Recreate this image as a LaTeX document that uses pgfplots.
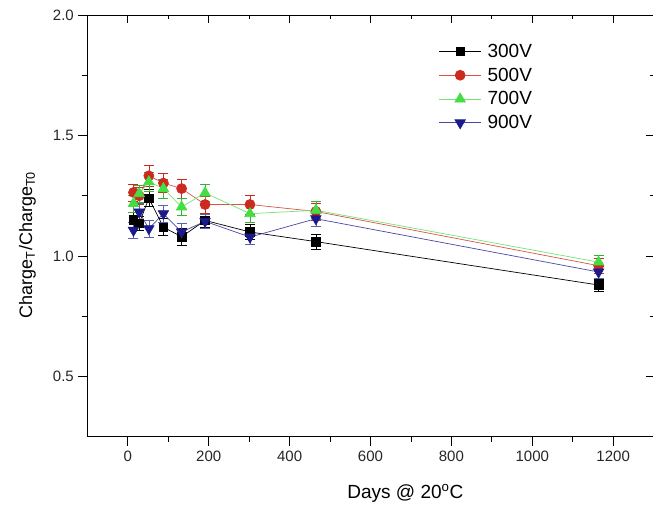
\documentclass[border=0pt]{standalone}
\usepackage{fontspec}
\setmainfont{Liberation Sans}
\usepackage{pgfplots}
\pgfplotsset{compat=1.18}

\definecolor{cred}{RGB}{204,42,30}
\definecolor{cgreen}{RGB}{68,221,68}
\definecolor{cblue}{RGB}{26,26,140}

\pgfplotsset{
  errstyle/.style={/pgfplots/error bars/.cd, y dir=both, y explicit,
    error mark options={rotate=90, mark size=5bp, line width=0.7bp},
    error bar style={#1, line width=0.7bp}, /pgfplots/.cd},
}

\begin{document}
\begin{tikzpicture}
\begin{axis}[
    scale only axis,
    width=565.7bp, height=421.5bp,
    xmin=-100, xmax=1300,
    ymin=0.25, ymax=2.0,
    xtick={0,200,...,1200},
    ytick={0.5,1.0,1.5,2.0},
    minor x tick num=1,
    minor y tick num=1,
    xtick pos=bottom, ytick pos=left,
    tick align=outside,
    major tick length=9bp, minor tick length=5bp,
    every tick/.style={black, line width=0.8bp},
    axis line style={line width=0.9bp},
    /pgf/number format/assume math mode=true,
    /pgf/number format/set thousands separator={},
    ticklabel style={font=\fontsize{15bp}{18bp}\selectfont, text=black!85},
    xticklabel style={yshift=-2bp},
    yticklabel style={xshift=-1bp, /pgf/number format/fixed, /pgf/number format/fixed zerofill, /pgf/number format/precision=1},
    xlabel={Days @ 20\textsuperscript{o}C},
    xlabel style={font=\fontsize{19bp}{22bp}\selectfont, at={(axis description cs:0.5616,0)}, anchor=center, yshift=-56.5bp},
    ylabel={Charge\textsubscript{T}/Charge\textsubscript{T0}},
    ylabel style={font=\fontsize{18bp}{21bp}\selectfont, at={(axis description cs:0,0.455)}, anchor=south, yshift=48bp},
    legend style={draw=none, fill=none, at={(axis description cs:0.615,0.941)}, anchor=north west,
      font=\fontsize{19bp}{23bp}\selectfont, row sep=5bp},
    legend cell align=left,
    legend image code/.code={\draw[mark repeat=2, mark phase=2] plot coordinates {(0bp,0bp) (21bp,0bp) (42bp,0bp)};},
]
\addplot[black, line width=0.7bp, mark=square*, mark size=4.3bp, mark options={fill=black}, errstyle=black]
  coordinates {
    (14,1.150) +- (0,0.030)
    (28,1.135) +- (0,0.030)
    (52,1.240) +- (0,0.035)
    (88,1.120) +- (0,0.035)
    (133,1.080) +- (0,0.035)
    (191,1.148) +- (0,0.030)
    (302,1.100) +- (0,0.030)
    (465,1.060) +- (0,0.030)
    (1164,0.880) +- (0,0.025)
  };
\addlegendentry{\hspace*{4bp}300V}
\addplot[cred!80!white, line width=0.7bp, mark=*, mark size=5bp, mark options={draw=cred, fill=cred}, errstyle=cred]
  coordinates {
    (14,1.264) +- (0,0.035)
    (28,1.250) +- (0,0.035)
    (52,1.333) +- (0,0.045)
    (88,1.303) +- (0,0.040)
    (133,1.280) +- (0,0.040)
    (191,1.214) +- (0,0.035)
    (302,1.214) +- (0,0.040)
    (465,1.185) +- (0,0.035)
    (1164,0.960) +- (0,0.030)
  };
\addlegendentry{\hspace*{4bp}500V}
\addplot[cgreen!75!white, line width=0.7bp, mark=triangle*, mark size=6bp, mark options={draw=cgreen, fill=cgreen}, errstyle=cgreen!80!black]
  coordinates {
    (14,1.218) +- (0,0.035)
    (28,1.259) +- (0,0.035)
    (52,1.308) +- (0,0.040)
    (88,1.280) +- (0,0.040)
    (133,1.204) +- (0,0.035)
    (191,1.262) +- (0,0.035)
    (302,1.176) +- (0,0.035)
    (465,1.190) +- (0,0.035)
    (1164,0.975) +- (0,0.030)
  };
\addlegendentry{\hspace*{4bp}700V}
\addplot[cblue!80!white, line width=0.7bp, mark=triangle*, mark size=6bp, mark options={draw=cblue, fill=cblue, rotate=180}, errstyle=cblue!70!white]
  coordinates {
    (14,1.107) +- (0,0.035)
    (28,1.183) +- (0,0.035)
    (52,1.114) +- (0,0.035)
    (88,1.176) +- (0,0.035)
    (133,1.100) +- (0,0.035)
    (191,1.144) +- (0,0.030)
    (302,1.079) +- (0,0.030)
    (465,1.155) +- (0,0.030)
    (1164,0.934) +- (0,0.025)
  };
\addlegendentry{\hspace*{4bp}900V}
\coordinate (sw) at (rel axis cs:0,0);
\coordinate (ne) at (rel axis cs:1,1);
\end{axis}
% top and right ticks point inward
\begin{axis}[
    scale only axis,
    width=565.7bp, height=421.5bp,
    xmin=-100, xmax=1300,
    ymin=0.25, ymax=2.0,
    xtick={0,200,...,1200},
    ytick={0.5,1.0,1.5,2.0},
    minor x tick num=1,
    minor y tick num=1,
    xtick pos=top, ytick pos=right,
    tick align=inside,
    major tick length=8bp, minor tick length=4bp,
    every tick/.style={black, line width=0.8bp},
    axis line style={line width=0.9bp},
    xticklabels={}, yticklabels={},
]
\end{axis}
\pgfresetboundingbox
\path[use as bounding box] ([xshift=-87.3bp, yshift=-70.5bp]sw) rectangle ([xshift=-0.6bp, yshift=15bp]ne);
\end{tikzpicture}
\end{document}
